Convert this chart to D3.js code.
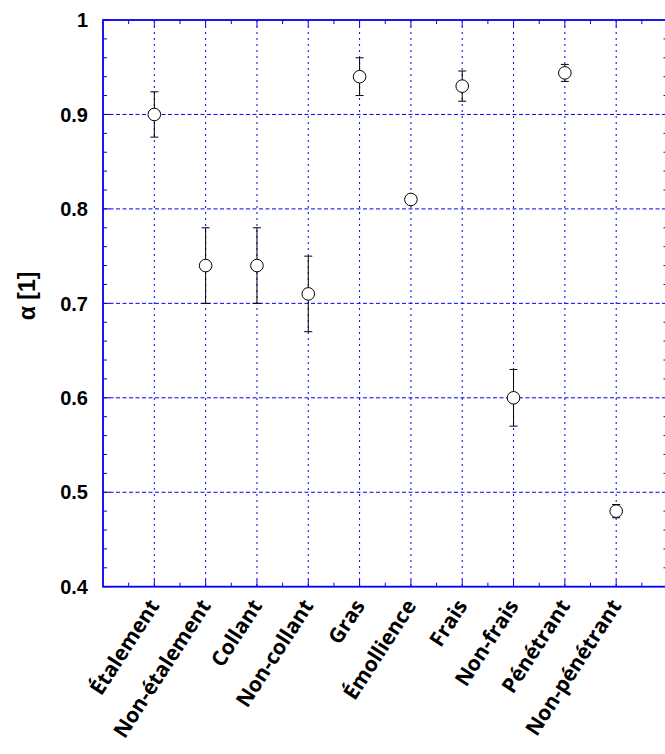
<!DOCTYPE html>
<html>
<head>
<meta charset="utf-8">
<script src="https://cdn.jsdelivr.net/npm/d3@7"></script>
<style>
  html, body { margin: 0; padding: 0; background: #fff; }
  svg { display: block; }
</style>
</head>
<body>
<svg id="chart" width="665" height="754"></svg>
<script>
// ---- data ----
const categories = ["Étalement", "Non-étalement", "Collant", "Non-collant", "Gras",
                    "Émollience", "Frais", "Non-frais", "Pénétrant", "Non-pénétrant"];
const alphaValues = [0.900, 0.740, 0.740, 0.710, 0.940, 0.810, 0.930, 0.600, 0.944, 0.480];
const alphaErrors = [0.024, 0.040, 0.040, 0.040, 0.020, 0.000, 0.016, 0.030, 0.009, 0.007];
const yTicks = [0.4, 0.5, 0.6, 0.7, 0.8, 0.9, 1];
const yTickLabels = ["0.4", "0.5", "0.6", "0.7", "0.8", "0.9", "1"];
const yTitle = "α [1]";

(function () {
// ---- layout ----
const svg = d3.select("#chart");
const pL = 103, pR = 667.5, pT = 20, pB = 586.7;
const blue = "#0000ee";

const x = d3.scaleLinear().domain([0, categories.length + 1]).range([pL, pR]);
const y = d3.scaleLinear().domain([0.4, 1]).range([pB, pT]);

const g = svg.append("g");

// grid: horizontal dashed
g.selectAll("line.hgrid").data(yTicks.filter(v => v > 0.4 && v < 1)).join("line")
  .attr("x1", pL).attr("x2", pR)
  .attr("y1", d => y(d)).attr("y2", d => y(d))
  .attr("stroke", blue).attr("stroke-width", 1)
  .attr("stroke-dasharray", "4,2.5");

// grid: vertical dotted
g.selectAll("line.vgrid").data(categories).join("line")
  .attr("x1", (d, i) => x(i + 1)).attr("x2", (d, i) => x(i + 1))
  .attr("y1", pT).attr("y2", pB)
  .attr("stroke", blue).attr("stroke-width", 1)
  .attr("stroke-dasharray", "2,4");

// minor ticks on y (every 0.02) left & right
const yMinor = d3.range(0, 31).map(i => 0.4 + i * 0.02).filter((v, i) => i % 5 !== 0);
g.selectAll("line.ymL").data(yMinor).join("line")
  .attr("x1", pL).attr("x2", pL + 4)
  .attr("y1", d => y(d)).attr("y2", d => y(d))
  .attr("stroke", blue).attr("stroke-width", 1);
g.selectAll("line.ymR").data(yMinor).join("line")
  .attr("x1", pR).attr("x2", pR - 4)
  .attr("y1", d => y(d)).attr("y2", d => y(d))
  .attr("stroke", blue).attr("stroke-width", 1);
g.selectAll("line.yML").data(yTicks).join("line")
  .attr("x1", pL).attr("x2", pL + 7)
  .attr("y1", d => y(d)).attr("y2", d => y(d))
  .attr("stroke", blue).attr("stroke-width", 1);

// minor ticks on x (half positions) bottom & top
const xMinor = d3.range(0, categories.length + 1).map(i => i + 0.5);
g.selectAll("line.xmB").data(xMinor).join("line")
  .attr("x1", d => x(d)).attr("x2", d => x(d))
  .attr("y1", pB).attr("y2", pB - 4)
  .attr("stroke", blue).attr("stroke-width", 1);
g.selectAll("line.xmT").data(xMinor).join("line")
  .attr("x1", d => x(d)).attr("x2", d => x(d))
  .attr("y1", pT).attr("y2", pT + 4)
  .attr("stroke", blue).attr("stroke-width", 1);
g.selectAll("line.xMB").data(categories).join("line")
  .attr("x1", (d, i) => x(i + 1)).attr("x2", (d, i) => x(i + 1))
  .attr("y1", pB).attr("y2", pB - 7)
  .attr("stroke", blue).attr("stroke-width", 1);
g.selectAll("line.xMT").data(categories).join("line")
  .attr("x1", (d, i) => x(i + 1)).attr("x2", (d, i) => x(i + 1))
  .attr("y1", pT).attr("y2", pT + 7)
  .attr("stroke", blue).attr("stroke-width", 1);

// frame
g.append("rect")
  .attr("x", pL).attr("y", pT)
  .attr("width", pR - pL).attr("height", pB - pT)
  .attr("fill", "none").attr("stroke", blue).attr("stroke-width", 1.8);

// y tick labels
svg.selectAll("text.ytl").data(yTicks).join("text")
  .attr("x", 88).attr("y", d => y(d))
  .attr("dy", "0.36em")
  .attr("text-anchor", "end")
  .attr("font-family", "Liberation Sans, Arial, sans-serif")
  .attr("font-weight", "bold").attr("font-size", 20)
  .attr("fill", "#000")
  .text((d, i) => yTickLabels[i]);

// y title
svg.append("text")
  .attr("transform", `translate(35, 296) rotate(-90)`)
  .attr("text-anchor", "middle")
  .attr("font-family", "Liberation Sans, Arial, sans-serif")
  .attr("font-weight", "bold").attr("font-size", 23)
  .attr("fill", "#000")
  .text(yTitle);

// x labels
svg.selectAll("text.xl").data(categories).join("text")
  .attr("transform", (d, i) => `translate(${x(i + 1) + 6}, ${pB + 19}) rotate(-57)`)
  .attr("text-anchor", "end")
  .attr("font-family", "Open Sans, Noto Sans, sans-serif")
  .attr("font-weight", "bold").attr("font-size", 21)
  .attr("fill", "#000")
  .text(d => d);

// error bars
const pts = categories.map((c, i) => ({ c, i, v: alphaValues[i], e: alphaErrors[i] }));
const eb = svg.append("g").attr("stroke", "#000").attr("stroke-width", 1);
pts.filter(p => p.e > 0).forEach(p => {
  const cx = x(p.i + 1);
  eb.append("line").attr("x1", cx).attr("x2", cx)
    .attr("y1", y(p.v - p.e)).attr("y2", y(p.v + p.e));
  eb.append("line").attr("x1", cx - 4).attr("x2", cx + 4)
    .attr("y1", y(p.v + p.e)).attr("y2", y(p.v + p.e));
  eb.append("line").attr("x1", cx - 4).attr("x2", cx + 4)
    .attr("y1", y(p.v - p.e)).attr("y2", y(p.v - p.e));
});

// points
svg.selectAll("circle.pt").data(pts).join("circle")
  .attr("cx", p => x(p.i + 1)).attr("cy", p => y(p.v))
  .attr("r", 6.3)
  .attr("fill", "#fff").attr("stroke", "#000").attr("stroke-width", 1);
})();
</script>
</body>
</html>
